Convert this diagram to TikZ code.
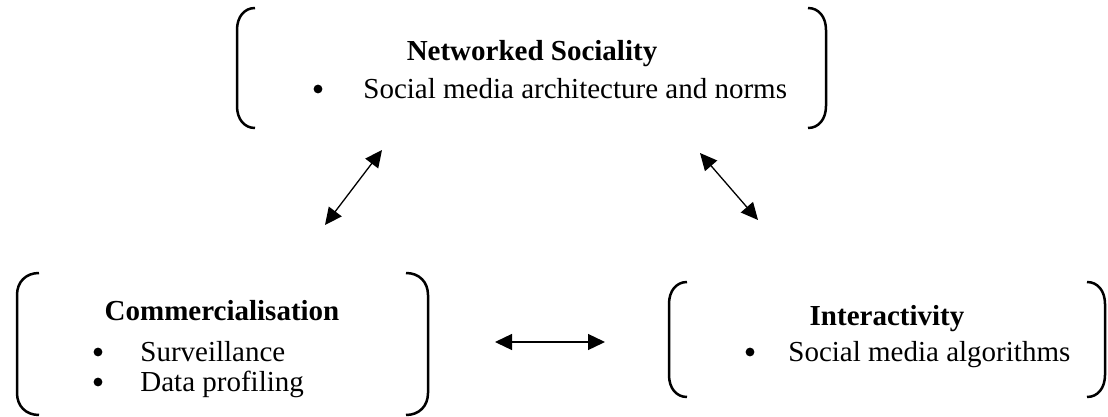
\documentclass[tikz,border=0pt]{standalone}
\usepackage{fontspec}
\setmainfont{Liberation Serif}
\usetikzlibrary{arrows.meta}

% Pair of round brackets: #1 left x, #2 right x, #3 top y, #4 bottom y, #5 curve width
\newcommand\drawbrackets[5]{%
  \draw[bracket] ({#1+#5},#3) .. controls ({#1+0.4*#5},#3) and (#1,{#3+9}) .. (#1,{#3+22})
    -- (#1,{#4-22}) .. controls (#1,{#4-9}) and ({#1+0.4*#5},#4) .. ({#1+#5},#4);
  \draw[bracket] ({#2-#5},#3) .. controls ({#2-0.4*#5},#3) and (#2,{#3+9}) .. (#2,{#3+22})
    -- (#2,{#4-22}) .. controls (#2,{#4-9}) and ({#2-0.4*#5},#4) .. ({#2-#5},#4);
}

\begin{document}
\begin{tikzpicture}[x=0.5pt,y=-0.5pt,
  txt/.style={font=\fontsize{14.5pt}{17pt}\selectfont, inner sep=0pt},
  title/.style={txt, font=\fontsize{14.5pt}{17pt}\selectfont\bfseries, anchor=base},
  item/.style={txt, anchor=base west},
  dot/.style={circle, fill=black, inner sep=0pt, minimum size=4.4pt},
  bracket/.style={line width=1.25pt},
  link/.style={line width=0.65pt,
    {Triangle[length=8.5pt,width=8pt]}-{Triangle[length=8.5pt,width=8pt]}}]

  \fill[white] (0,0) rectangle (1108,417);
  \useasboundingbox (0,0) rectangle (1108,417);

  % Networked Sociality
  \drawbrackets{237}{826}{8}{128}{18}
  \node[title] (ns) at (532,61) {Networked Sociality};
  \node[dot]  (nsb) at (318,89) {};
  \node[item] (ns1) at (363,98) {Social media architecture and norms};

  % Commercialisation
  \drawbrackets{17}{428}{273}{415}{22}
  \node[title] (cm) at (222,320) {Commercialisation};
  \node[dot]  (cmb1) at (98,352) {};
  \node[item] (cm1) at (140,361) {Surveillance};
  \node[dot]  (cmb2) at (98,382) {};
  \node[item] (cm2) at (140,391) {Data profiling};

  % Interactivity
  \drawbrackets{669}{1105}{282}{397}{18}
  \node[title] (ia) at (887,325) {Interactivity};
  \node[dot]  (iab) at (750,352) {};
  \node[item] (ia1) at (788,361) {Social media algorithms};

  % Two-way links between the three groups
  \coordinate (l1a) at (325,225);
  \coordinate (l1b) at (382,150);
  \coordinate (l2a) at (700,153);
  \coordinate (l2b) at (758,220);
  \coordinate (l3a) at (495,342);
  \coordinate (l3b) at (605,342);
  \draw[link] (l1a) -- (l1b);
  \draw[link] (l2a) -- (l2b);
  \draw[link] (l3a) -- (l3b);
\end{tikzpicture}
\end{document}
